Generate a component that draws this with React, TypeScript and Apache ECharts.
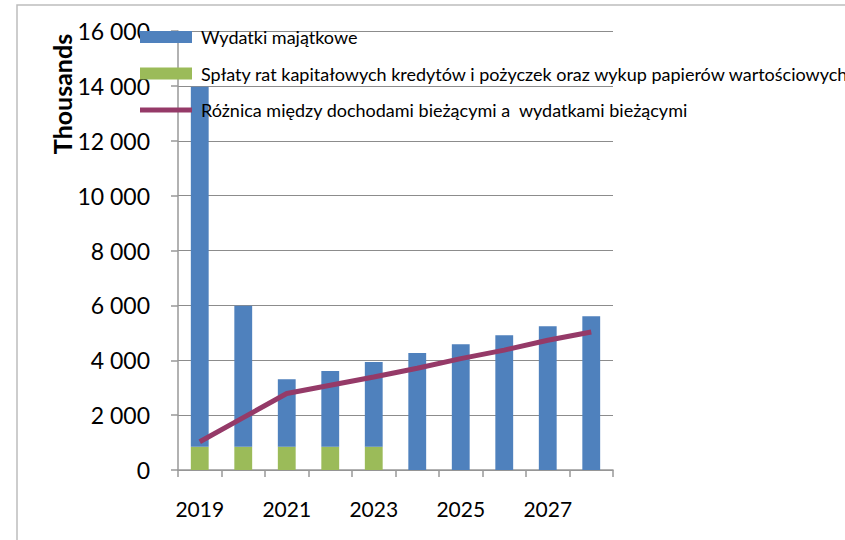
import React, { useEffect, useRef } from "react";
import * as echarts from "echarts";

const years = ["2019", "2020", "2021", "2022", "2023", "2024", "2025", "2026", "2027", "2028"];
const wydatkiMajatkowe = [13120, 5140, 2460, 2760, 3090, 4266, 4582, 4909, 5236, 5600];
const splatyRat = [850, 850, 850, 850, 850, 0, 0, 0, 0, 0];
const roznica = [1030, 1910, 2790, 3090, 3390, 3710, 4060, 4370, 4730, 5030];

const NAME_BLUE = "Wydatki majątkowe";
const NAME_GREEN = "Spłaty rat kapitałowych kredytów i pożyczek oraz wykup papierów wartościowych";
const NAME_LINE = "Różnica między dochodami bieżącymi a  wydatkami bieżącymi";

const FONT = "Lato";

function fmt(v: number): string {
  const s = String(Math.round(v));
  return s.replace(/\B(?=(\d{3})+(?!\d))/g, " ");
}

export default function App() {
  const ref = useRef<HTMLDivElement>(null);
  useEffect(() => {
    if (!ref.current) return;
    const chart = echarts.init(ref.current, null, { renderer: "svg" });
    chart.setOption({
      animation: false,
      backgroundColor: "#ffffff",
      textStyle: { fontFamily: FONT },
      grid: { left: 178, right: 232, top: 31, bottom: 70, containLabel: false },
      legend: {
        orient: "vertical",
        left: 140,
        top: 27,
        padding: 0,
        itemWidth: 52,
        itemHeight: 12,
        itemGap: 16.5,
        selectedMode: false,
        textStyle: {
          fontFamily: FONT,
          fontSize: 18,
          color: "#000",
          lineHeight: 20,
          padding: [0, 0, 0, 4],
        },
        data: [
          { name: NAME_BLUE, icon: "rect" },
          { name: NAME_GREEN, icon: "rect" },
          { name: NAME_LINE, icon: "path://M0,0H52V5H0Z", itemStyle: { color: "#953A68" } },
        ],
      },
      xAxis: {
        type: "category",
        data: years,
        boundaryGap: true,
        axisLine: { lineStyle: { color: "#999", width: 1.5 } },
        axisTick: { show: true, interval: 0, length: 7, lineStyle: { color: "#999", width: 1.5 } },
        axisLabel: {
          interval: 1,
          margin: 28,
          fontSize: 21,
          color: "#000",
          fontFamily: FONT,
        },
        splitLine: { show: false },
      },
      yAxis: {
        type: "value",
        min: 0,
        max: 16000,
        interval: 2000,
        axisLine: { show: true, lineStyle: { color: "#999", width: 1.5 } },
        axisTick: { show: true, length: 7, lineStyle: { color: "#999", width: 1.5 } },
        axisLabel: {
          margin: 28,
          fontSize: 23,
          color: "#000",
          fontFamily: FONT,
          formatter: (v: number) => fmt(v),
        },
        splitLine: { show: true, lineStyle: { color: "#8c8c8c", width: 1.2 } },
      },
      series: [
        {
          name: NAME_GREEN,
          type: "bar",
          stack: "total",
          data: splatyRat,
          barWidth: "41%",
          itemStyle: { color: "#9BBB59" },
        },
        {
          name: NAME_BLUE,
          type: "bar",
          stack: "total",
          data: wydatkiMajatkowe,
          barWidth: "41%",
          itemStyle: { color: "#4F81BD" },
        },
        {
          name: NAME_LINE,
          type: "line",
          data: roznica,
          symbol: "none",
          showSymbol: false,
          lineStyle: { color: "#953A68", width: 5 },
          itemStyle: { color: "#953A68" },
          z: 5,
        },
      ],
      graphic: [
        {
          type: "rect",
          shape: { x: 17, y: 5, width: 1000, height: 1000 },
          style: { fill: "none", stroke: "#bdbdbd", lineWidth: 1.5 },
          silent: true,
          z: -10,
        },
        {
          type: "text",
          x: 62,
          y: 94,
          rotation: Math.PI / 2,
          style: {
            text: "Thousands",
            fontFamily: FONT,
            fontSize: 25,
            fontWeight: "bold",
            fill: "#000",
            align: "center",
            verticalAlign: "middle",
          },
        },
      ],
    });
    return () => chart.dispose();
  }, []);
  return (
    <div
      ref={ref}
      style={{ position: "absolute", left: 0, top: 0, width: 845, height: 540 }}
    />
  );
}
